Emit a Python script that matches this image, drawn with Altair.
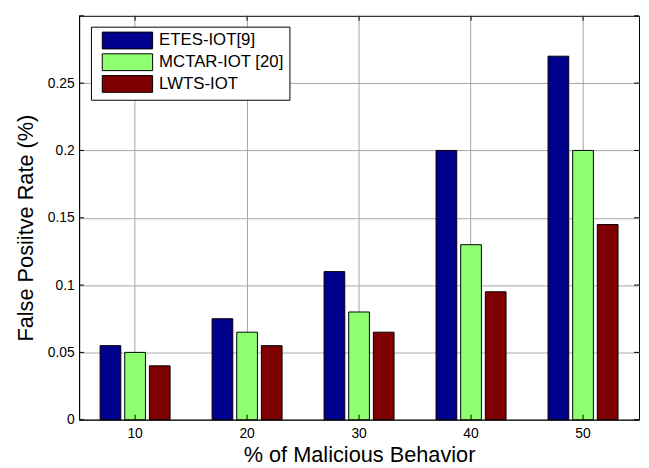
import altair as alt
import pandas as pd

categories = ["10", "20", "30", "40", "50"]
series = ["ETES-IOT[9]", "MCTAR-IOT [20]", "LWTS-IOT"]
etes = [0.055, 0.075, 0.11, 0.2, 0.27]
mctar = [0.05, 0.065, 0.08, 0.13, 0.2]
lwts = [0.04, 0.055, 0.065, 0.095, 0.145]
colors = ["#00008F", "#8FFF70", "#800000"]
y_ticks = [0, 0.05, 0.1, 0.15, 0.2, 0.25, 0.3]

rows = []
for name, vals in zip(series, [etes, mctar, lwts]):
    for c, v in zip(categories, vals):
        rows.append({"pct": c, "series": name, "value": v})
df = pd.DataFrame(rows)

FONT = "Liberation Sans"
W, H = 567, 409

xscale = alt.Scale(paddingInner=0, paddingOuter=0)
yscale = alt.Scale(domain=[0, 0.3], nice=False, zero=True)

bars = alt.Chart(df).mark_bar(stroke="black", strokeWidth=1, opacity=1).encode(
    x=alt.X("pct:N", sort=categories, scale=xscale,
            axis=alt.Axis(title="% of Malicious Behavior", labelAngle=0, ticks=False,
                          labelPadding=7, bandPosition=0.5, grid=True,
                          titleX=283.5, titleY=42, titleBaseline="alphabetic")),
    xOffset=alt.XOffset("series:N", sort=series,
                        scale=alt.Scale(paddingInner=0.16, paddingOuter=0.852)),
    y=alt.Y("value:Q", scale=yscale,
            axis=alt.Axis(title="False Posiitve Rate (%)", values=y_ticks[:-1], format=".2~f",
                          ticks=False, labelPadding=5, grid=True,
                          titleX=-47, titleY=214.5, titleBaseline="alphabetic")),
    fill=alt.Fill("series:N", sort=series, scale=alt.Scale(domain=series, range=colors),
                  legend=alt.Legend(orient="none", legendX=12, legendY=11, title=None,
                                    symbolType="M-0.3,-1H5.7V1H-0.3Z", symbolSize=289,
                                    symbolStrokeColor="black", symbolStrokeWidth=1,
                                    symbolOpacity=1, labelFontSize=17, labelFont=FONT,
                                    labelColor="black", labelOffset=46, rowPadding=0,
                                    padding=5, strokeColor="black", fillColor="white",
                                    labelLimit=300)),
)

xt_df = pd.DataFrame({"pct": categories})
yt_df = pd.DataFrame({"value": y_ticks})

xt_bottom = alt.Chart(xt_df).mark_rule(color="black", strokeWidth=1).encode(
    x=alt.X("pct:N", sort=categories), y=alt.value(H), y2=alt.value(H - 5))
xt_top = alt.Chart(xt_df).mark_rule(color="black", strokeWidth=1).encode(
    x=alt.X("pct:N", sort=categories), y=alt.value(0), y2=alt.value(5))
yt_left = alt.Chart(yt_df).mark_rule(color="black", strokeWidth=1).encode(
    y=alt.Y("value:Q"), x=alt.value(0), x2=alt.value(5))
yt_right = alt.Chart(yt_df).mark_rule(color="black", strokeWidth=1).encode(
    y=alt.Y("value:Q"), x=alt.value(W - 5), x2=alt.value(W))

chart = alt.layer(bars, xt_bottom, xt_top, yt_left, yt_right).properties(
    width=W, height=H,
    autosize=alt.AutoSizeParams(type="none"),
    padding={"left": 72, "top": 5, "right": 2, "bottom": 46},
).configure(font=FONT).configure_view(
    stroke="black", strokeWidth=1
).configure_axis(
    labelFont=FONT, labelFontSize=14, labelColor="black",
    titleFont=FONT, titleFontSize=22, titleFontWeight="normal", titleColor="black",
    domainColor="black", domainWidth=1,
    gridColor="#a6a6a6", gridWidth=1, gridOpacity=1,
)

chart.save("out.html", embed_options={"renderer": "svg", "actions": False})
